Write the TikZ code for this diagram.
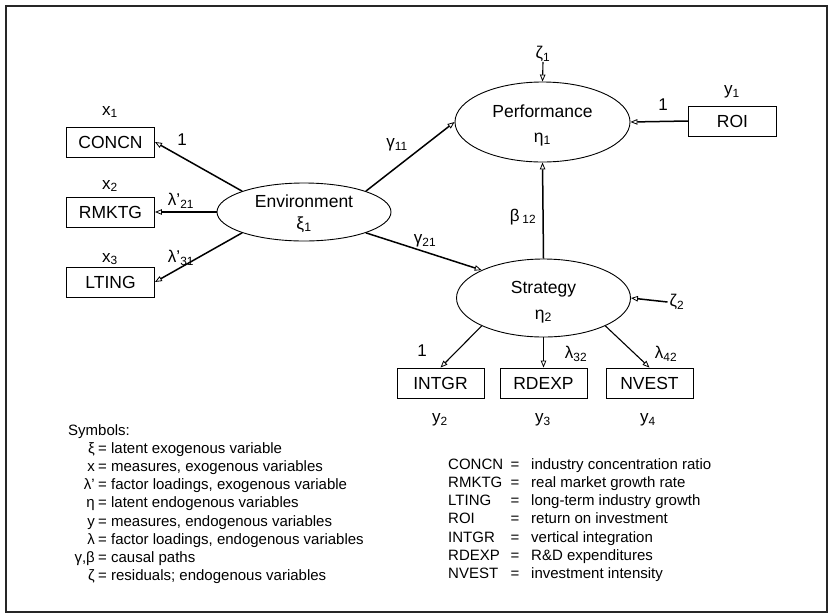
\documentclass[tikz,border=0pt]{standalone}
\usepackage{fontspec}
\setmainfont{Liberation Sans}
\usetikzlibrary{shapes.geometric,arrows.meta}
\newcommand\sbs[1]{\textsubscript{#1}}
\begin{document}
\begin{tikzpicture}[x=1pt,y=-1pt,
  obs/.style={draw, line width=0.9pt, rectangle, minimum width=88pt, minimum height=30pt, inner sep=0pt, font=\fontsize{17.5}{20}\selectfont},
  lat/.style={draw, line width=0.9pt, ellipse, inner sep=0pt},
  ltxt/.style={font=\fontsize{17.5}{20}\selectfont, inner sep=0pt, anchor=base},
  lbl/.style={font=\fontsize{17}{20}\selectfont, inner sep=1pt},
  arr/.style={line width=1.5pt, -{Triangle[open,length=7pt,width=5.5pt,line width=0.8pt]}},
  leg/.style={font=\fontsize{15}{18}\selectfont, inner sep=0pt}
]
\useasboundingbox (0,0) rectangle (832,614);
\draw[line width=1.5pt, black!85] (6,6) rectangle (827,612);

% latent variables
\node[lat, minimum width=174pt, minimum height=58pt] (env) at (304,212) {};
\node[ltxt] (envt) at (304,207.5) {Environment};
\node[ltxt] (envs) at (304,229) {ξ\sbs{1}};
\node[lat, minimum width=175pt, minimum height=80pt] (perf) at (542.5,122) {};
\node[ltxt] (perft) at (542.5,117.5) {Performance};
\node[ltxt] (perfs) at (542.5,142) {η\sbs{1}};
\node[lat, minimum width=174pt, minimum height=78pt] (strat) at (543.5,298) {};
\node[ltxt] (stratt) at (543.5,293) {Strategy};
\node[ltxt] (strats) at (543.5,319) {η\sbs{2}};

% observed variables
\node[obs] (concn) at (110.5,142) {CONCN};
\node[obs] (rmktg) at (110.5,212) {RMKTG};
\node[obs] (lting) at (110.5,282) {LTING};
\node[obs] (roi) at (732.5,121) {ROI};
\node[obs, minimum width=87pt] (intgr) at (440.5,383) {INTGR};
\node[obs, minimum width=87pt] (rdexp) at (543.5,383) {RDEXP};
\node[obs, minimum width=87pt] (nvest) at (649.5,383) {NVEST};

% measure labels
\node[lbl] (lx1) at (110,112) {x\sbs{1}};
\node[lbl] (lx2) at (110,186) {x\sbs{2}};
\node[lbl] (lx3) at (110,259) {x\sbs{3}};
\node[lbl] (ly1) at (732,92) {y\sbs{1}};
\node[lbl] (ly2) at (440,420) {y\sbs{2}};
\node[lbl] (ly3) at (543,420) {y\sbs{3}};
\node[lbl] (ly4) at (648,420) {y\sbs{4}};

% residuals
\node[lbl, inner sep=0pt] (z1) at (543,54) {ζ\sbs{1}};
\node[lbl, inner sep=2pt] (z2) at (677,302) {ζ\sbs{2}};

% connectors
\draw[arr] (env.north west) -- (concn.east);
\draw[arr] (env.west) -- (rmktg.east);
\draw[arr] (env.south west) -- (lting.east);
\draw[arr] (env.north east) -- (perf.west);
\draw[arr] (env.south east) -- (strat.north west);
\draw[arr] (strat.north) -- (perf.south);
\draw[arr] (roi.west) -- (perf.east);
\draw[arr, line width=1.1pt] (z1.south) -- (perf.north);
\draw[arr] (z2.west) -- (strat.east);
\draw[arr, line width=1.1pt] (strat.south west) -- (intgr.north);
\draw[arr, line width=1.1pt] (strat.south) -- (rdexp.north);
\draw[arr, line width=1.1pt] (strat.south east) -- (nvest.north);

% path labels
\node[lbl] (p1) at (182,140) {1};
\node[lbl] (p2) at (181,201) {λ'\sbs{21}};
\node[lbl] (p3) at (181,258) {λ'\sbs{31}};
\node[lbl] (g11) at (397,145) {γ\sbs{11}};
\node[lbl] (g21) at (425,241) {γ\sbs{21}};
\node[lbl] (b12) at (523,217) {β\,\sbs{12}};
\node[lbl] (p4) at (663,105) {1};
\node[lbl] (p5) at (422,351) {1};
\node[lbl] (l32) at (576,354) {λ\sbs{32}};
\node[lbl] (l42) at (666,354) {λ\sbs{42}};

% legend left
\node[leg, anchor=base west] (sym) at (68,435) {Symbols:};
\foreach \s/\t [count=\i] in {ξ/latent exogenous variable, x/{measures, exogenous variables}, λ'/{factor loadings, exogenous variable}, η/latent endogenous variables, y/{measures, endogenous variables}, λ/{factor loadings, endogenous variables}, {γ,β}/causal paths, ζ/{residuals; endogenous variables}}{
  \node[leg, anchor=base east] (ls\i) at (95,435+18.2*\i) {\s};
  \node[leg, anchor=base west] (lt\i) at (98,435+18.2*\i) {= \t};
}

% legend right
\foreach \a/\t [count=\i from 0] in {CONCN/industry concentration ratio, RMKTG/real market growth rate, LTING/long-term industry growth, ROI/return on investment, INTGR/vertical integration, RDEXP/R\&D expenditures, NVEST/investment intensity}{
  \node[leg, anchor=base west] (ra\i) at (448,469+18.3*\i) {\a};
  \node[leg, anchor=base] (re\i) at (515,469+18.3*\i) {=};
  \node[leg, anchor=base west] (rt\i) at (531,469+18.3*\i) {\t};
}
\end{tikzpicture}
\end{document}
